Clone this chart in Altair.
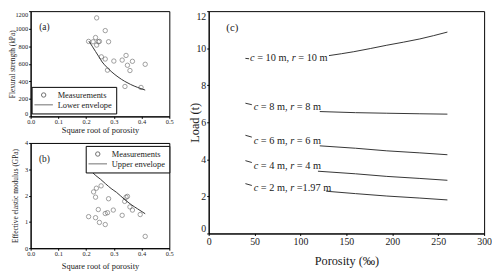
import altair as alt
import pandas as pd

FONT = "Liberation Serif"

# ---------------- panel (a): flexural strength ----------------
a_x = [0.238, 0.269, 0.209, 0.225, 0.234, 0.244, 0.248, 0.238, 0.281, 0.255, 0.269,
       0.300, 0.330, 0.344, 0.349, 0.367, 0.358, 0.413, 0.277, 0.340, 0.398]
a_y = [1123, 978, 855, 851, 899, 851, 855, 813, 851, 679, 654,
       631, 642, 695, 583, 628, 523, 594, 527, 341, 330]
lower_x = [0.21, 0.222, 0.234, 0.246, 0.258, 0.275, 0.293, 0.315, 0.339, 0.36, 0.386, 0.413]
lower_y = [858, 800, 740, 680, 620, 560, 505, 450, 400, 365, 330, 300]

# ---------------- panel (b): effective elastic modulus ----------------
b_x = [0.227, 0.237, 0.254, 0.234, 0.281, 0.344, 0.349, 0.339, 0.358, 0.367, 0.395,
       0.244, 0.298, 0.269, 0.277, 0.330, 0.209, 0.234, 0.248, 0.269, 0.413]
b_y = [2.14, 2.28, 2.37, 1.94, 1.88, 1.94, 1.97, 1.78, 1.57, 1.45, 1.28,
       1.47, 1.45, 1.32, 1.35, 1.25, 1.20, 1.16, 0.98, 0.90, 0.45]
upper_x = [0.208, 0.235, 0.252, 0.27, 0.29, 0.31, 0.34, 0.362, 0.385, 0.413]
upper_y = [3.04, 2.76, 2.62, 2.45, 2.27, 2.12, 1.84, 1.66, 1.50, 1.31]

# ---------------- panel (c): load vs porosity ----------------
curve_names = ["c10", "c8", "c6", "c4", "c2"]
c_vals = ["10", "8", "6", "4", "2"]
r_texts = [" = 10 m", " = 8 m", " = 6 m", " = 4 m", " =1.97 m"]
seg1_x = [[40, 44], [40, 47], [40, 47], [40, 47], [40, 47]]
seg1_y = [[9.45, 9.43], [7.03, 6.95], [5.30, 5.20], [3.93, 3.83], [2.69, 2.59]]
seg2_x = [[131, 158, 194, 230, 260], [121, 160, 194, 230, 260], [121, 160, 194, 230, 260],
          [119, 160, 194, 230, 260], [128, 160, 194, 230, 260]]
seg2_y = [[9.60, 9.81, 10.16, 10.50, 10.87], [6.58, 6.52, 6.49, 6.46, 6.44],
          [4.73, 4.60, 4.46, 4.35, 4.25], [3.36, 3.22, 3.08, 2.97, 2.87],
          [2.28, 2.15, 2.02, 1.91, 1.81]]
label_x = [45, 49, 49, 49, 49]
label_y = [9.45, 6.8, 5.0, 3.66, 2.45]

x_ticks_ab = [0.0, 0.1, 0.2, 0.3, 0.4, 0.5]
y_ticks_a = [0, 200, 400, 600, 800, 1000, 1200]
y_ticks_b = [0, 1, 2, 3, 4]
x_ticks_c = [0, 50, 100, 150, 200, 250, 300]
y_ticks_c = [0, 2, 4, 6, 8, 10, 12]

PT = "#555555"
LN = "#333333"
TXT = "#1a1a1a"
LINE_SYMBOL = "M-4.2,0H4.2"

AB_W = 141
C_W = 280
C_H = 226


def small_panel(px, py, lx, ly, env_name, ytitle, ydom, yticks, letter, lgx, lgy, h,
                ytitle_x, xtitle_y, yflush):
    pts = pd.DataFrame({"x": px, "y": py, "series": "Measurements"})
    env = pd.DataFrame({"x": lx, "y": ly, "series": env_name})
    xsc = alt.Scale(domain=[0, 0.5], nice=False)
    ysc = alt.Scale(domain=ydom, nice=False)
    xax = alt.Axis(values=x_ticks_ab, tickCount=len(x_ticks_ab), format=".1f",
                   title="Square root of porosity", labelFontSize=6.5, titleFontSize=8.5,
                   labelFlush=False, labelOverlap=False, labelPadding=0,
                   titleY=xtitle_y, titleBaseline="middle")
    yax = alt.Axis(values=yticks, tickCount=len(yticks), format="d", title=ytitle,
                   labelFontSize=6.5, titleFontSize=7.5, labelOverlap=False, labelPadding=1,
                   labelFlush=yflush, titleX=ytitle_x, titleBaseline="middle")
    dom = ["Measurements", env_name]
    leg = alt.Legend(title=None, orient="none", legendX=lgx, legendY=lgy,
                     strokeColor="black", fillColor="white", padding=4,
                     labelFont=FONT, labelFontSize=8.5, labelColor=TXT,
                     labelOffset=10, rowPadding=1, symbolStrokeWidth=1,
                     symbolStrokeColor=LN, symbolOffset=4)
    points = alt.Chart(pts).mark_point(filled=False, color=PT, strokeWidth=0.8).encode(
        x=alt.X("x:Q", scale=xsc, axis=xax),
        y=alt.Y("y:Q", scale=ysc, axis=yax),
        shape=alt.Shape("series:N", scale=alt.Scale(domain=dom, range=["circle", LINE_SYMBOL]),
                        legend=leg),
        size=alt.Size("series:N", scale=alt.Scale(domain=dom, range=[20, 20]), legend=leg),
    )
    line = alt.Chart(env).mark_line(color=LN, strokeWidth=1, interpolate="monotone").encode(
        x=alt.X("x:Q", scale=xsc), y=alt.Y("y:Q", scale=ysc)
    )
    tag = alt.Chart(pd.DataFrame({"t": [letter]})).mark_text(
        font=FONT, fontSize=9.5, color=TXT, align="center", baseline="middle"
    ).encode(text="t:N", x=alt.value(14), y=alt.value(16))
    return alt.layer(points, line, tag).properties(width=AB_W, height=h)


panel_a = small_panel(a_x, a_y, lower_x, lower_y, "Lower envelope",
                      "Flexural strength (kPa)", [0, 1200], y_ticks_a, "(a)", 1, 77, 107,
                      -18, 13, True)
panel_b = small_panel(b_x, b_y, upper_x, upper_y, "Upper envelope",
                      "Effective elastic modulus (GPa)", [0, 4], y_ticks_b, "(b)", 56, 3, 107,
                      -15, 18, False)

# panel (c) data
rows = []
for i, name in enumerate(curve_names):
    for xv, yv in zip(seg1_x[i], seg1_y[i]):
        rows.append({"curve": name, "seg": name + "_1", "x": xv, "y": yv})
    for xv, yv in zip(seg2_x[i], seg2_y[i]):
        rows.append({"curve": name, "seg": name + "_2", "x": xv, "y": yv})
cdf = pd.DataFrame(rows)

# Times-like advance widths (per 1000 em)
W = {" ": 250, "=": 564, ".": 250, ",": 250, "m": 778, "c": 444, "r": 389}
for d in "0123456789":
    W[d] = 500
LFS = 10.5
PX_TO_DATA = 300.0 / C_W


def text_width(s):
    return sum(W.get(ch, 500) for ch in s) * LFS / 1000.0


lab_rows = []
for i in range(len(curve_names)):
    pieces = [("c", True), (" = " + c_vals[i] + " m, ", False), ("r", True), (r_texts[i], False)]
    off = 0.0
    for txt, it in pieces:
        lead = txt[: len(txt) - len(txt.lstrip())]
        start = off + text_width(lead)
        lab_rows.append({"x": label_x[i] + start * PX_TO_DATA, "y": label_y[i],
                         "t": txt.strip(), "it": it})
        off += text_width(txt)
ldf = pd.DataFrame(lab_rows)

xsc_c = alt.Scale(domain=[0, 300], nice=False)
ysc_c = alt.Scale(domain=[0, 12], nice=False)
lines_c = alt.Chart(cdf).mark_line(color=LN, strokeWidth=1, interpolate="monotone").encode(
    x=alt.X("x:Q", scale=xsc_c,
            axis=alt.Axis(values=x_ticks_c, tickCount=len(x_ticks_c), title="Porosity (\u2030)",
                          labelFontSize=10, titleFontSize=12.5, labelFlush=False,
                          labelOverlap=False, titleY=28, titleBaseline="middle")),
    y=alt.Y("y:Q", scale=ysc_c,
            axis=alt.Axis(values=y_ticks_c, tickCount=len(y_ticks_c), title="Load (t)",
                          labelFontSize=10, titleFontSize=12.5, labelOverlap=False,
                          labelFlush=True, titleX=-14, titleBaseline="middle")),
    detail="seg:N",
)
txt_norm = alt.Chart(ldf[~ldf["it"]]).mark_text(
    font=FONT, fontSize=LFS, color=TXT, align="left", baseline="middle"
).encode(x=alt.X("x:Q", scale=xsc_c), y=alt.Y("y:Q", scale=ysc_c), text="t:N")
txt_it = alt.Chart(ldf[ldf["it"]]).mark_text(
    font=FONT, fontSize=LFS, fontStyle="italic", color=TXT, align="left", baseline="middle"
).encode(x=alt.X("x:Q", scale=xsc_c), y=alt.Y("y:Q", scale=ysc_c), text="t:N")
tag_c = alt.Chart(pd.DataFrame({"t": ["(c)"]})).mark_text(
    font=FONT, fontSize=11, color=TXT, align="center", baseline="middle"
).encode(text="t:N", x=alt.value(24), y=alt.value(17))
panel_c = alt.layer(lines_c, txt_norm, txt_it, tag_c).properties(width=C_W, height=C_H)

left = alt.vconcat(panel_a, panel_b, spacing=5).resolve_scale(
    shape="independent", size="independent"
).resolve_legend(shape="independent", size="independent")

chart = alt.hconcat(left, panel_c, spacing=14).resolve_scale(
    shape="independent", size="independent"
).resolve_legend(shape="independent", size="independent").properties(
    padding={"left": 0, "top": 0, "right": 0, "bottom": 0}
).configure_axis(
    labelFont=FONT, titleFont=FONT, labelColor=TXT, titleColor=TXT,
    domainColor="black", tickColor="black", grid=False, tickSize=2, labelPadding=1,
    titleFontWeight="normal",
).configure_view(stroke="black", strokeWidth=1)

chart.save("out.html", embed_options={"renderer": "svg", "actions": False})
